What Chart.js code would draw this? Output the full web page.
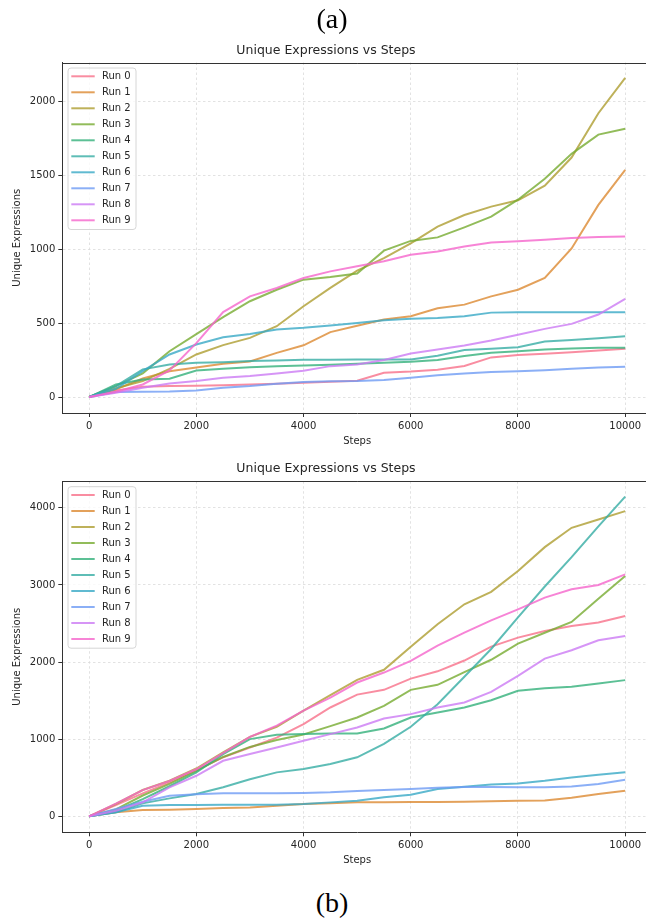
<!DOCTYPE html>
<html><head><meta charset="utf-8">
<script src="https://cdn.jsdelivr.net/npm/chart.js@4.4.1/dist/chart.umd.min.js"></script>
<style>
html,body{margin:0;padding:0;background:#fff;overflow:hidden;width:646px;height:919px;}
#wrap{position:relative;width:646px;height:919px;overflow:hidden;}
.cap{position:absolute;left:0;width:664px;text-align:center;font-family:"Liberation Serif","DejaVu Serif",serif;font-size:28px;line-height:30px;color:#000;z-index:2;}
canvas{position:absolute;left:0;}
</style></head><body>
<div id="wrap">
<div class="cap" style="top:4px">(a)</div>
<canvas id="cA" width="660" height="455" style="top:0"></canvas>
<canvas id="cB" width="660" height="420" style="top:455px"></canvas>
<div class="cap" style="top:888px">(b)</div>
</div>
<script>
const STEPS = [0,500,1000,1500,2000,2500,3000,3500,4000,4500,5000,5500,6000,6500,7000,7500,8000,8500,9000,9500,10000];
const X_TICKS = [0,2000,4000,6000,8000,10000];
const Y_TICKS_A = [0,500,1000,1500,2000];
const Y_TICKS_B = [0,1000,2000,3000,4000];
const RUN_LABELS = ['Run 0','Run 1','Run 2','Run 3','Run 4','Run 5','Run 6','Run 7','Run 8','Run 9'];
const COLORS = ['#f77189','#dc8932','#ae9d31','#77ab31','#33b07a','#36ada4','#38a9c5','#6e9bf4','#cc7af4','#f565cc'];

// Panel (a)
const A_RUN0 = [0,45,70,74,76,79,85,90,97,104,110,164,172,185,210,268,285,293,303,314,326];
const A_RUN1 = [0,52,125,175,200,225,240,299,350,439,482,524,547,600,625,681,726,805,1005,1300,1536];
const A_RUN2 = [0,60,108,191,288,351,400,479,614,738,855,940,1040,1153,1231,1288,1331,1430,1620,1920,2159];
const A_RUN3 = [0,74,160,310,425,540,648,726,794,812,835,990,1056,1080,1148,1220,1335,1476,1645,1775,1815];
const A_RUN4 = [0,85,119,124,180,191,202,209,214,218,225,232,238,250,277,299,310,322,328,333,333];
const A_RUN5 = [0,74,187,220,232,236,243,247,252,252,254,254,254,280,318,326,337,375,385,398,412];
const A_RUN6 = [0,56,175,288,355,405,427,457,468,484,500,520,529,535,547,571,574,574,574,574,574];
const A_RUN7 = [0,34,36,38,45,63,74,90,101,106,108,115,130,148,160,169,175,182,191,200,205];
const A_RUN8 = [0,29,63,92,108,130,142,160,178,209,220,250,295,322,349,382,421,461,495,558,664];
const A_RUN9 = [0,36,85,180,365,575,681,738,805,850,884,918,963,985,1019,1046,1053,1064,1075,1082,1086];

// Panel (b)
const B_RUN0 = [0,147,298,440,600,764,893,1020,1195,1411,1578,1640,1785,1880,2020,2200,2317,2404,2469,2512,2598];
const B_RUN1 = [0,52,82,86,95,108,116,138,160,170,181,183,185,187,190,195,203,205,242,289,332];
const B_RUN2 = [0,160,341,462,620,829,1031,1161,1370,1570,1770,1900,2200,2490,2749,2910,3180,3490,3741,3849,3957];
const B_RUN3 = [0,90,270,420,590,770,900,990,1060,1170,1282,1433,1640,1705,1870,2030,2240,2380,2520,2820,3116];
const B_RUN4 = [0,73,224,390,570,807,1001,1057,1066,1075,1075,1139,1282,1346,1411,1506,1627,1662,1679,1722,1766];
const B_RUN5 = [0,52,168,233,289,376,480,570,613,678,765,940,1161,1454,1810,2170,2580,2980,3360,3760,4145];
const B_RUN6 = [0,52,138,147,147,151,151,151,160,181,203,246,281,354,384,414,427,462,505,540,570];
const B_RUN7 = [0,95,190,267,285,298,298,298,302,311,330,341,354,371,380,380,378,377,388,420,473];
const B_RUN8 = [0,73,181,375,526,720,807,893,980,1066,1152,1269,1325,1411,1476,1614,1821,2045,2153,2283,2339];
const B_RUN9 = [0,165,340,460,610,820,1030,1175,1370,1540,1735,1864,2015,2213,2381,2541,2684,2835,2943,2999,3137];

const RUNS_A = [A_RUN0,A_RUN1,A_RUN2,A_RUN3,A_RUN4,A_RUN5,A_RUN6,A_RUN7,A_RUN8,A_RUN9];
const RUNS_B = [B_RUN0,B_RUN1,B_RUN2,B_RUN3,B_RUN4,B_RUN5,B_RUN6,B_RUN7,B_RUN8,B_RUN9];

function rgba(hex, a){
  const n = parseInt(hex.slice(1),16);
  return 'rgba('+((n>>16)&255)+','+((n>>8)&255)+','+(n&255)+','+a+')';
}
const FONT = 'DejaVu Sans';
const TXT = '#262626';

const mplPlugin = {
  id: 'mplFrame',
  afterDraw(chart){
    const ctx = chart.ctx, a = chart.chartArea;
    ctx.save();
    ctx.strokeStyle = '#333'; ctx.lineWidth = 1;
    ctx.beginPath(); ctx.moveTo(a.left, Math.round(a.top)+0.5); ctx.lineTo(a.right, Math.round(a.top)+0.5); ctx.stroke();
    // legend (upper left, inside axes)
    const x0 = a.left + 5.7, y0 = a.top + 5.5, w = 68, h = 161.5, r = 3;
    ctx.beginPath();
    ctx.moveTo(x0+r,y0); ctx.lineTo(x0+w-r,y0); ctx.quadraticCurveTo(x0+w,y0,x0+w,y0+r);
    ctx.lineTo(x0+w,y0+h-r); ctx.quadraticCurveTo(x0+w,y0+h,x0+w-r,y0+h);
    ctx.lineTo(x0+r,y0+h); ctx.quadraticCurveTo(x0,y0+h,x0,y0+h-r);
    ctx.lineTo(x0,y0+r); ctx.quadraticCurveTo(x0,y0,x0+r,y0); ctx.closePath();
    ctx.fillStyle = 'rgba(255,255,255,0.8)'; ctx.fill();
    ctx.strokeStyle = '#d6d6d6'; ctx.lineWidth = 1; ctx.stroke();
    ctx.font = '10px "' + FONT + '"';
    ctx.textBaseline = 'middle'; ctx.textAlign = 'left';
    chart.data.datasets.forEach((ds, i) => {
      const yy = y0 + 8.3 + 16 * i;
      ctx.strokeStyle = ds.borderColor; ctx.lineWidth = 2;
      ctx.beginPath(); ctx.moveTo(x0 + 3.3, yy); ctx.lineTo(x0 + 26.7, yy); ctx.stroke();
      ctx.fillStyle = TXT; ctx.fillText(ds.label, x0 + 34, yy + 0.5);
    });
    ctx.restore();
  }
};

function makeChart(id, runs, yTicks, yMin, yMax, cfg){
  const datasets = runs.map((arr, i) => ({
    label: RUN_LABELS[i],
    data: STEPS.map((s, k) => ({x: s, y: arr[k]})),
    borderColor: rgba(COLORS[i], 0.8),
    backgroundColor: rgba(COLORS[i], 0.8),
    borderWidth: 2,
    pointRadius: 0,
    tension: 0,
    fill: false,
    order: 9 - i
  }));
  const tickFont = {family: FONT, size: 10};
  const gridCommon = {color: '#dadada', lineWidth: 0.8, tickLength: 4, tickColor: '#333', tickWidth: 1, drawTicks: true};
  return new Chart(document.getElementById(id), {
    type: 'line',
    data: {datasets},
    options: {
      responsive: false, animation: false, devicePixelRatio: 1,
      layout: {padding: {left: 0, right: 8, top: 0, bottom: 0}},
      plugins: {
        legend: {display: false},
        tooltip: {enabled: false},
        title: {display: true, text: 'Unique Expressions vs Steps', color: TXT,
          font: {family: FONT, size: 12.5, weight: 'normal', lineHeight: 1.2},
          padding: {top: cfg.titleTop, bottom: cfg.titleBottom}}
      },
      scales: {
        x: {
          type: 'linear', min: -500, max: 10500,
          afterBuildTicks: s => { s.ticks = X_TICKS.map(v => ({value: v})); },
          afterFit: s => { s.height = cfg.xHeight; },
          ticks: {font: tickFont, color: TXT, padding: 3, maxRotation: 0, autoSkip: false, callback: v => String(v)},
          grid: gridCommon,
          border: {display: true, color: '#333', width: 1, dash: [2.5, 2.5]},
          title: {display: true, text: 'Steps', color: TXT, font: {family: FONT, size: 10, lineHeight: 1.2}, padding: {top: 0, bottom: cfg.xTitlePad}}
        },
        y: {
          type: 'linear', min: yMin, max: yMax,
          afterBuildTicks: s => { s.ticks = yTicks.map(v => ({value: v})); },
          afterFit: s => { s.width = 62.3; },
          ticks: {font: tickFont, color: TXT, padding: 3, callback: v => String(v)},
          grid: gridCommon,
          border: {display: true, color: '#333', width: 1, dash: [2.5, 2.5]},
          title: {display: true, text: 'Unique Expressions', color: TXT, font: {family: FONT, size: 10, lineHeight: 1.2}, padding: {top: 11, bottom: 0}}
        }
      }
    },
    plugins: [mplPlugin]
  });
}

makeChart('cA', RUNS_A, Y_TICKS_A, -108, 2263, {titleTop: 43.5, titleBottom: 4, xHeight: 42, xTitlePad: 8});
makeChart('cB', RUNS_B, Y_TICKS_B, -207, 4345, {titleTop: 6.5, titleBottom: 4.7, xHeight: 42.7, xTitlePad: 9});
</script>
</body></html>
